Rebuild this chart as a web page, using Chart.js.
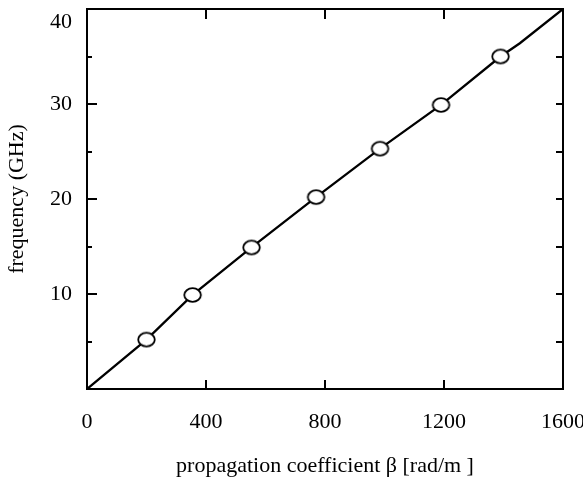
<!DOCTYPE html>
<html>
<head>
<meta charset="utf-8">
<script src="https://cdn.jsdelivr.net/npm/chart.js@4/dist/chart.umd.min.js"></script>
<style>
  html, body { margin: 0; padding: 0; background: #fff; }
  #wrap { width: 583px; height: 477px; }
</style>
</head>
<body>
<div id="wrap"><canvas id="c" width="583" height="477"></canvas></div>
<script>
// Tick values
const betaTicks = [0, 400, 800, 1200, 1600];
const freqTicks = [10, 20, 30, 40];
const freqMinorTicks = [5, 15, 25, 35];

// Measured points (open circles)
const markerBeta = [200, 355, 553, 770, 985, 1190, 1390];
const markerFreq = [5.2, 9.9, 14.9, 20.2, 25.3, 29.9, 35.0];

// Dispersion curve through the measured points
const curveBeta = [0, 200, 355, 553, 770, 985, 1190, 1390, 1455, 1600];
const curveFreq = [0, 5.2, 9.9, 14.9, 20.2, 25.3, 29.9, 35.0, 36.4, 40];

const FONT = { family: "'Liberation Serif', 'Times New Roman', serif", size: 22 };

// Open elliptical marker
function makeMarker() {
  const cv = document.createElement('canvas');
  cv.width = 21; cv.height = 18;
  const g = cv.getContext('2d');
  g.beginPath();
  g.ellipse(10.5, 9, 8.3, 6.8, 0, 0, Math.PI * 2);
  g.fillStyle = '#fff';
  g.fill();
  g.lineWidth = 1.8;
  g.strokeStyle = '#000';
  g.stroke();
  return cv;
}

function fixSize(prop, value) {
  return function (scale) {
    scale[prop] = value;
    scale.paddingLeft = 0; scale.paddingRight = 0;
    scale.paddingTop = 0; scale.paddingBottom = 0;
  };
}

// Inward tick marks on all four sides of the frame
const innerTicks = {
  id: 'innerTicks',
  afterDraw(chart) {
    const { ctx, chartArea: a, scales } = chart;
    const x = scales.x, y = scales.y;
    ctx.save();
    ctx.strokeStyle = '#000';
    ctx.lineWidth = 2;
    ctx.beginPath();
    // left axis
    freqTicks.forEach(v => {
      if (v >= 40) return;
      const py = Math.round(y.getPixelForValue(v));
      ctx.moveTo(a.left, py); ctx.lineTo(a.left + 10, py);
    });
    freqMinorTicks.forEach(v => {
      const py = Math.round(y.getPixelForValue(v));
      ctx.moveTo(a.left, py); ctx.lineTo(a.left + 5, py);
    });
    // right axis
    freqTicks.concat(freqMinorTicks).forEach(v => {
      if (v >= 40) return;
      const py = Math.round(y.getPixelForValue(v));
      ctx.moveTo(a.right, py); ctx.lineTo(a.right - 7, py);
    });
    // bottom and top axes
    betaTicks.forEach(v => {
      if (v <= 0 || v >= 1600) return;
      const px = Math.round(x.getPixelForValue(v));
      ctx.moveTo(px, a.bottom); ctx.lineTo(px, a.bottom - 9);
      ctx.moveTo(px, a.top); ctx.lineTo(px, a.top + 10);
    });
    ctx.stroke();
    ctx.restore();
  }
};

new Chart(document.getElementById('c'), {
  type: 'scatter',
  data: {
    datasets: [
      {
        data: markerBeta.map((b, i) => ({ x: b, y: markerFreq[i] })),
        pointStyle: makeMarker(),
        pointRadius: 8,
        pointHoverRadius: 8,
        showLine: false,
        order: 0
      },
      {
        data: curveBeta.map((b, i) => ({ x: b, y: curveFreq[i] })),
        showLine: true,
        borderColor: '#000',
        borderWidth: 2.3,
        pointRadius: 0,
        tension: 0,
        order: 1
      }
    ]
  },
  options: {
    responsive: false,
    animation: false,
    devicePixelRatio: 1,
    layout: { padding: 0 },
    plugins: { legend: { display: false }, tooltip: { enabled: false } },
    scales: {
      x: {
        type: 'linear', position: 'bottom', min: 0, max: 1600,
        afterBuildTicks: s => { s.ticks = betaTicks.map(v => ({ value: v })); },
        afterFit: fixSize('height', 88),
        grid: { display: false, drawTicks: false },
        border: { display: true, color: '#000', width: 2 },
        ticks: { color: '#000', font: FONT, padding: 20, maxRotation: 0, autoSkip: false,
                 callback: v => String(v) },
        title: { display: true, text: 'propagation coefficient β [rad/m ]', color: '#000',
                 font: { ...FONT, lineHeight: 1.0 }, padding: 0 }
      },
      y: {
        type: 'linear', position: 'left', min: 0, max: 40,
        afterBuildTicks: s => { s.ticks = freqTicks.map(v => ({ value: v })); },
        afterFit: fixSize('width', 87),
        grid: { display: false, drawTicks: false },
        border: { display: true, color: '#000', width: 2 },
        ticks: { color: '#000', font: FONT, padding: 15, autoSkip: false,
                 callback: v => (v === 40 ? ['', '40'] : String(v)) },
        title: { display: true, text: 'frequency (GHz)', color: '#000',
                 font: FONT, padding: { top: 4, bottom: 0 } }
      },
      x2: {
        type: 'linear', position: 'top', min: 0, max: 1600,
        afterFit: fixSize('height', 5),
        grid: { display: false, drawTicks: false },
        border: { display: true, color: '#000', width: 2 },
        ticks: { display: false }
      },
      y2: {
        type: 'linear', position: 'right', min: 0, max: 40,
        afterFit: fixSize('width', 20),
        grid: { display: false, drawTicks: false },
        border: { display: true, color: '#000', width: 2 },
        ticks: { display: false }
      }
    }
  },
  plugins: [innerTicks]
});
</script>
</body>
</html>
